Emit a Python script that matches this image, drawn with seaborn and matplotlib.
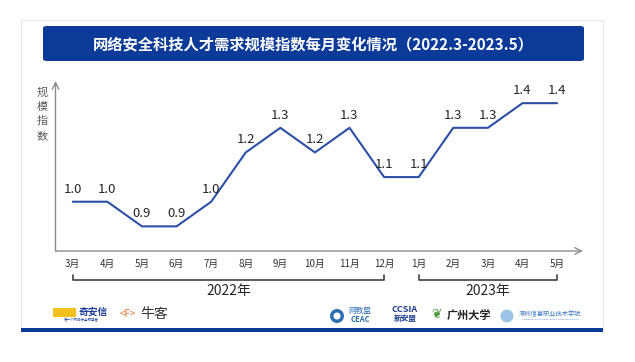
import matplotlib
matplotlib.use("Agg")
import matplotlib.pyplot as plt
import seaborn as sns
import pandas as pd
from matplotlib.patches import FancyBboxPatch, Rectangle, Ellipse
from matplotlib import transforms

# data
months = ["3月", "4月", "5月", "6月", "7月", "8月", "9月", "10月", "11月", "12月",
          "1月", "2月", "3月", "4月", "5月"]
index_values = [1.0, 1.0, 0.9, 0.9, 1.0, 1.2, 1.3, 1.2, 1.3, 1.1,
                1.1, 1.3, 1.3, 1.4, 1.4]
years = ["2022年", "2023年"]
year_spans = [(0, 9), (10, 14)]
title = "网络安全科技人才需求规模指数每月变化情况（2022.3-2023.5）"
ylabel = "规模指数"

sns.set_theme(style="white")
plt.rcParams["font.family"] = ["Noto Sans CJK SC", "DejaVu Sans"]

W, H = 635, 362
BLUE = "#0b3a98"
LINE = "#2b4fa6"

fig = plt.figure(figsize=(W / 100, H / 100), dpi=100)
fig.patch.set_facecolor("white")

def fx(px):
    return px / W

def fy(py):
    return 1 - py / H

def rect(x0, y0, x1, y1, **kw):
    fig.patches.append(Rectangle((fx(x0), fy(y1)), fx(x1) - fx(x0), fy(y0) - fy(y1),
                                 transform=fig.transFigure, **kw))

def dot(cx, cy, d, color):
    fig.patches.append(Ellipse((fx(cx), fy(cy)), d / W, d / H, transform=fig.transFigure,
                               facecolor=color, edgecolor="none"))

# slide frame and bottom band
rect(21, 20, 603, 331, facecolor="none", edgecolor="#e6e6e6", lw=0.8, zorder=-1)
rect(21, 328, 603, 332, facecolor=BLUE, edgecolor="none", zorder=-1)

# title box
fig.patches.append(FancyBboxPatch((fx(43), fy(61)), fx(584) - fx(43), fy(26) - fy(61),
                                  boxstyle="round,pad=0,rounding_size=0.006",
                                  transform=fig.transFigure, facecolor=BLUE,
                                  edgecolor="none", zorder=-1))
fig.text(fx(313), fy(44), title, color="white", fontsize=11, fontweight="bold",
         ha="center", va="center", zorder=2)

# main axes
ax = fig.add_axes([fx(55.5), fy(251), fx(583) - fx(55.5), fy(81) - fy(251)])
ax.set_facecolor("none")
df = pd.DataFrame({"x": range(len(months)), "v": index_values})
sns.lineplot(data=df, x="x", y="v", ax=ax, color=LINE, linewidth=1.5)
ax.set_xlim(-0.5, 14.75)
ax.set_ylim(0.8, 1.49)
ax.set_xlabel("")
ax.set_ylabel("")
ax.set_yticks([])
ax.set_xticks(range(len(months)), months, fontsize=7, color="#333333")
ax.tick_params(axis="x", length=0, pad=6)
for s in ["top", "right", "left", "bottom"]:
    ax.spines[s].set_visible(False)

arrow = dict(arrowstyle="->", color="#8c8c8c", lw=1, shrinkA=0, shrinkB=0)
ax.annotate("", xy=(1, 0), xytext=(0, 0), xycoords="axes fraction", arrowprops=arrow)
ax.annotate("", xy=(0, 1), xytext=(0, 0), xycoords="axes fraction", arrowprops=arrow)

for i, v in enumerate(index_values):
    ax.annotate(f"{v:.1f}", (i, v), xytext=(0, 9), textcoords="offset points",
                ha="center", va="center", fontsize=9.5, color="#262626")

# year brackets
trans = transforms.blended_transform_factory(ax.transData, ax.transAxes)
for (a, b), yr in zip(year_spans, years):
    ax.plot([a, a, b, b], [-0.142, -0.172, -0.172, -0.142], color="#404040",
            lw=1.2, transform=trans, clip_on=False)
    ax.text((a + b) / 2, -0.237, yr, transform=trans, ha="center", va="center",
            fontsize=10, color="#262626")

# y label, stacked characters
fig.text(fx(42), fy(114), "\n".join(ylabel), fontsize=8, color="#595959",
         ha="center", va="center", linespacing=1.55)

# footer logos (approximated as text)
rect(53, 308, 76, 317, facecolor="#f4c020", edgecolor="none")
fig.text(fx(93), fy(312), "奇安信", fontsize=7, color="#1e3f9a", fontweight="bold",
         ha="center", va="center")
fig.text(fx(81), fy(320), "第一个网络安全领导者", fontsize=2.5, color="#1e3f9a",
         ha="center", va="center")
fig.text(fx(128), fy(314), "<F>", fontsize=7, color="#e8762c", ha="center", va="center")
fig.text(fx(154), fy(314), "牛客", fontsize=10, color="#333333", ha="center", va="center")

dot(337, 316, 14, "#2f6db5")
dot(337, 316, 7, "white")
fig.text(fx(360), fy(311), "网教盟", fontsize=5.5, color="#2f6db5", ha="center", va="center")
fig.text(fx(360), fy(320), "CEAC", fontsize=5.5, color="#2f6db5", ha="center", va="center",
         fontweight="bold")
fig.text(fx(405), fy(310), "CCSIA", fontsize=6.5, color="#1b3c8c", ha="center", va="center",
         fontweight="bold")
fig.text(fx(405), fy(319), "新安盟", fontsize=5.5, color="#1b3c8c", ha="center", va="center",
         fontweight="bold")
fig.text(fx(436), fy(315), "❦", fontsize=9, color="#4a9a3c", ha="center", va="center",
         family=["DejaVu Sans"])
fig.text(fx(469), fy(316), "广州大学", fontsize=8, color="#222222", ha="center", va="center",
         fontweight="bold")
dot(507, 316, 13, "#9cc3e6")
fig.text(fx(550), fy(314), "深圳信息职业技术学院", fontsize=4.5, color="#3b78c2",
         ha="center", va="center")
fig.text(fx(550), fy(320), "SHENZHEN INSTITUTE OF INFORMATION TECHNOLOGY", fontsize=1.6,
         color="#3b78c2", ha="center", va="center")

fig.savefig("out.png", dpi=100)
